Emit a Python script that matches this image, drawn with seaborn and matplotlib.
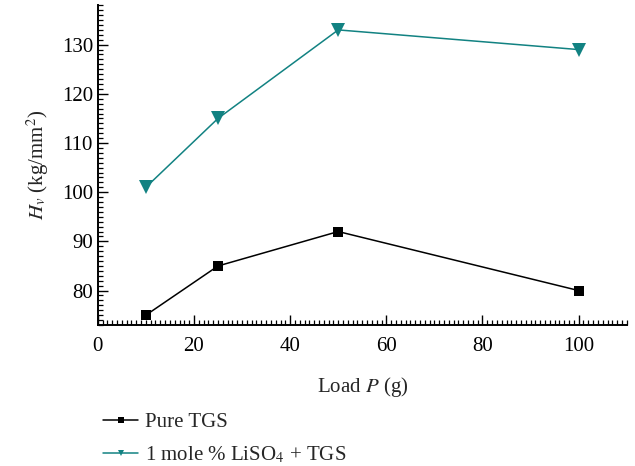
import matplotlib
matplotlib.use("Agg")
import matplotlib.pyplot as plt
import numpy as np
import pandas as pd
import seaborn as sns
from matplotlib.ticker import MultipleLocator

# data
load = [10, 25, 50, 100]
pure_tgs = [75, 85, 92, 80]
liso4_tgs = [101, 115, 133, 129]
labels = ["Pure TGS", "1 mole % LiSO$_4$ + TGS"]

df = pd.DataFrame({
    "load": load * 2,
    "hv": pure_tgs + liso4_tgs,
    "series": [labels[0]] * len(load) + [labels[1]] * len(load),
})

sns.set_style("ticks")
plt.rcParams["font.family"] = ["Liberation Serif", "DejaVu Serif"]
plt.rcParams["mathtext.fontset"] = "stix"

fig = plt.figure(figsize=(6.35, 4.66), dpi=100)
ax = fig.add_axes([0.154, 0.3026, 0.833, 0.686])

sns.lineplot(
    data=df, x="load", y="hv", hue="series", style="series",
    palette={labels[0]: "black", labels[1]: "#128282"},
    markers={labels[0]: "s", labels[1]: "v"},
    dashes=False, markersize=8, markeredgewidth=0, linewidth=1.1, ax=ax,
)
# square markers a bit smaller than triangles
ax.lines[0].set_markersize(7)
ax.lines[1].set_markersize(9.5)

ax.set_xlim(0, 110)
ax.set_ylim(73, 138)
ax.xaxis.set_major_locator(MultipleLocator(20))
ax.xaxis.set_minor_locator(MultipleLocator(1))
ax.yaxis.set_major_locator(MultipleLocator(10))
ax.yaxis.set_minor_locator(MultipleLocator(1))
ax.tick_params(which="major", direction="in", length=7, width=1, labelsize=15, colors="black")
ax.tick_params(which="minor", direction="in", length=3.5, width=0.9, colors="black",
               bottom=True, left=True)
ax.tick_params(axis="x", pad=9)
sns.despine(ax=ax)
for s in ["left", "bottom"]:
    ax.spines[s].set_linewidth(1.4)
    ax.spines[s].set_color("black")

ax.set_xlabel("Load $P$ (g)", fontsize=15, labelpad=13)
ax.set_ylabel("$H_v$ (kg/mm$^2$)", fontsize=15, labelpad=8)

handles, _ = ax.get_legend_handles_labels()
for h in handles:
    h.set_markersize(5)
ax.legend(handles, labels, loc="upper left", bbox_to_anchor=(0.162, 0.115),
          bbox_transform=fig.transFigure, frameon=False, fontsize=15,
          handlelength=1.7, handletextpad=0.3, labelspacing=0.6, borderpad=0,
          borderaxespad=0)

fig.savefig("out.png", dpi=100)
